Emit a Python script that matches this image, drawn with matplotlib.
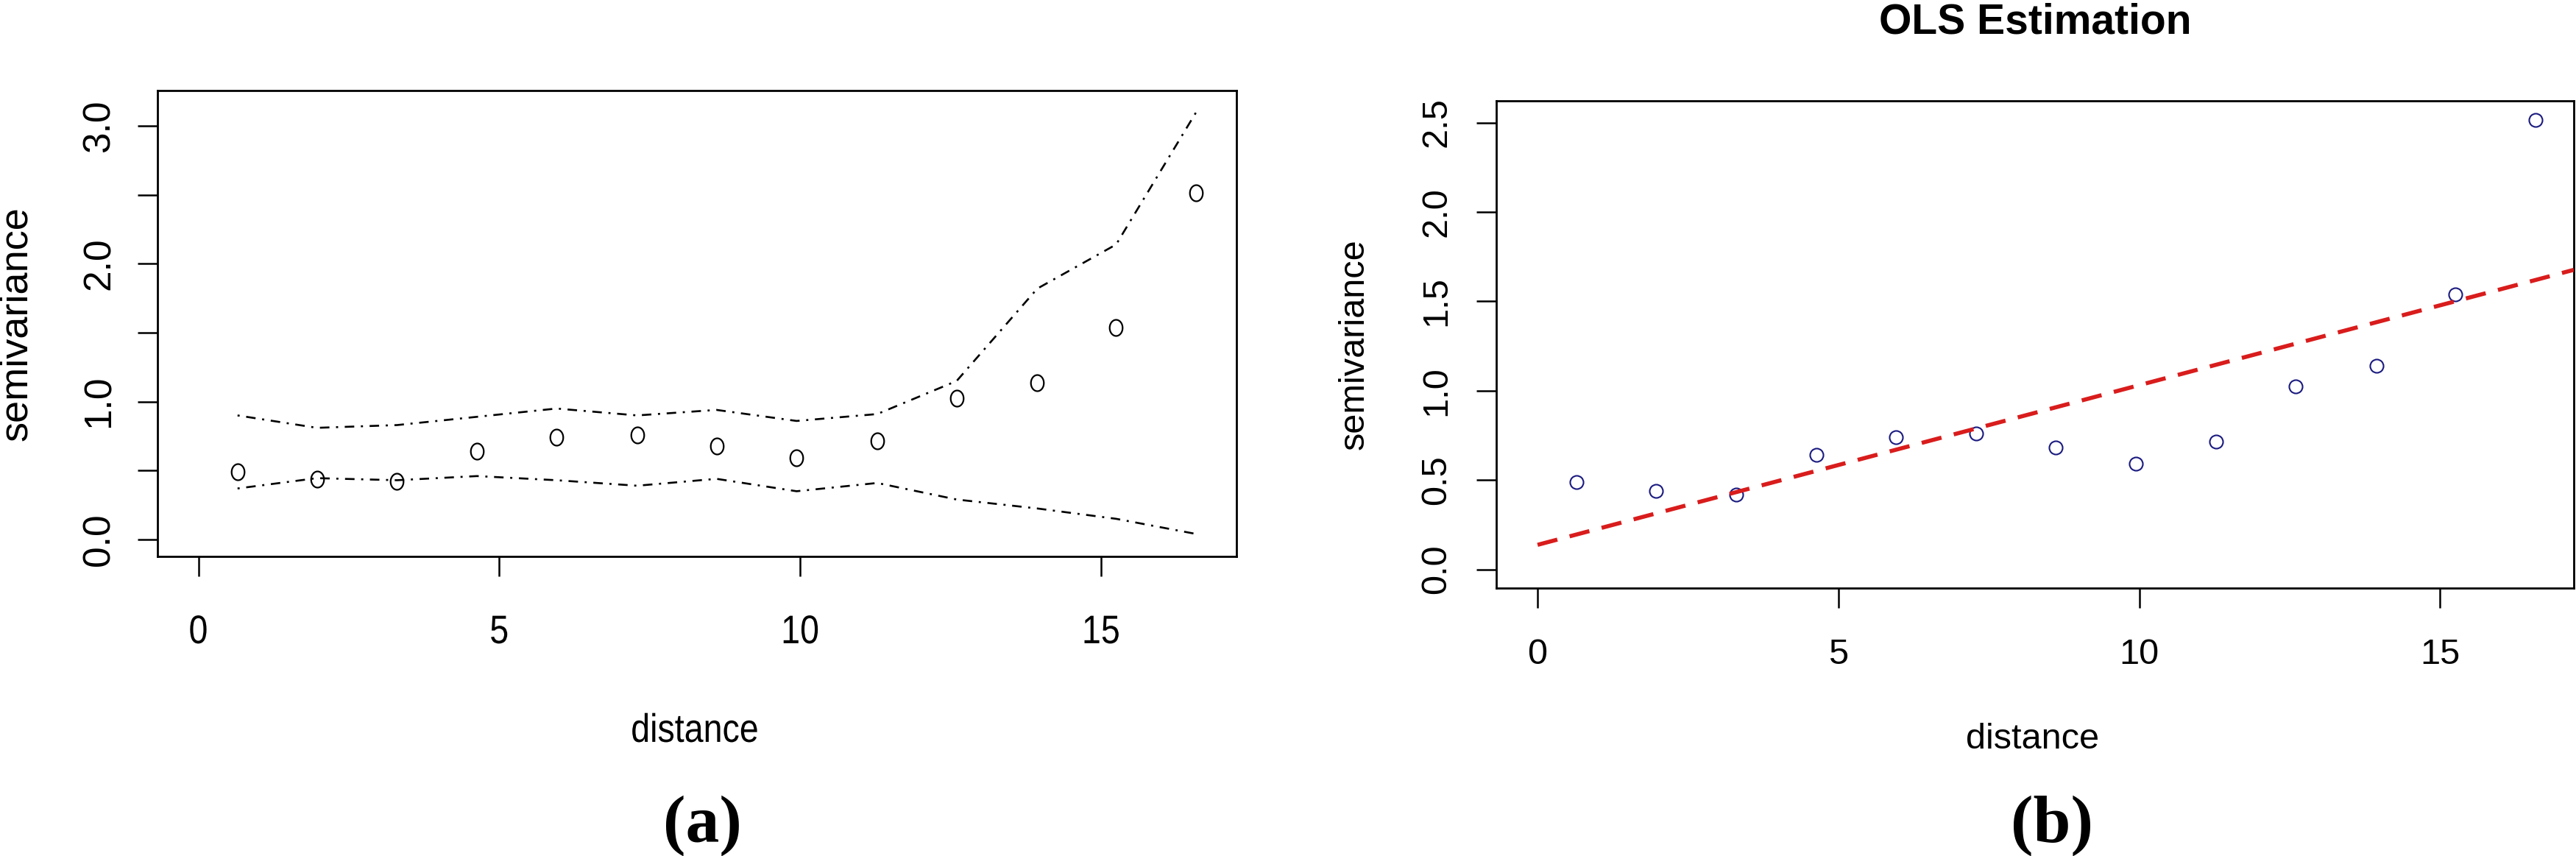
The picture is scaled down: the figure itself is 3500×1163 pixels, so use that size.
import numpy as np
import matplotlib
matplotlib.use("Agg")
import matplotlib.pyplot as plt
from matplotlib.path import Path
from matplotlib.transforms import Affine2D
from matplotlib.patheffects import AbstractPathEffect

# ---------------- data ----------------
lag_distance = [0.65, 1.97, 3.30, 4.63, 5.95, 7.29, 8.61, 9.94, 11.28, 12.60, 13.94, 15.25, 16.58]
semivariance = [0.49, 0.44, 0.42, 0.64, 0.74, 0.76, 0.68, 0.59, 0.715, 1.025, 1.137, 1.537, 2.515]
envelope_upper = [0.90, 0.81, 0.83, 0.89, 0.95, 0.90, 0.94, 0.86, 0.91, 1.15, 1.82, 2.14, 3.10]
envelope_lower = [0.37, 0.445, 0.43, 0.46, 0.43, 0.39, 0.44, 0.35, 0.41, 0.29, 0.225, 0.15, 0.04]
ols_distance = [0.0, 17.22]
ols_fit = [0.137, 1.676]

x_ticks = [0, 5, 10, 15]
x_ticklabels = ["0", "5", "10", "15"]
y_ticks_a = [0.0, 0.5, 1.0, 1.5, 2.0, 2.5, 3.0]
y_ticklabels_a = ["0.0", "", "1.0", "", "2.0", "", "3.0"]
y_ticks_b = [0.0, 0.5, 1.0, 1.5, 2.0, 2.5]
y_ticklabels_b = ["0.0", "0.5", "1.0", "1.5", "2.0", "2.5"]

plt.rcParams["font.family"] = ["Liberation Sans", "DejaVu Sans"]


class HStretch(AbstractPathEffect):
    """Condense glyphs along the baseline about the text centre."""
    def __init__(self, sx=1.0):
        super().__init__()
        self.sx = sx

    def draw_path(self, renderer, gc, tpath, affine, rgbFace=None):
        v = tpath.vertices
        c = (v[:, 0].min() + v[:, 0].max()) / 2.0 if len(v) else 0.0
        t = Affine2D().translate(-c, 0).scale(self.sx, 1.0).translate(c, 0) + affine
        renderer.draw_path(gc, tpath, t, rgbFace)


W, H = 3500, 1163
fig = plt.figure(figsize=(W / 100, H / 100), dpi=100)


def px_axes(l, r, t, b):
    return fig.add_axes([l / W, 1 - b / H, (r - l) / W, (b - t) / H])


axA = px_axes(214, 1680, 123, 756)
axB = px_axes(2033.5, 3497, 136.7, 799)

# elliptical open-circle marker (left panel)
th = np.linspace(0, 2 * np.pi, 73)
ell = Path(np.column_stack([0.8 * np.cos(th), np.sin(th)]), closed=True)

# ---------------- panel (a) ----------------
dd = (1.1, 3.4, 4.9, 3.4)
axA.plot(lag_distance, envelope_upper, color="black", lw=1.9, dashes=dd)
axA.plot(lag_distance, envelope_lower, color="black", lw=1.9, dashes=dd)
axA.plot(lag_distance, semivariance, ls="none", marker=ell, ms=15.8,
         mfc="none", mec="black", mew=1.6, zorder=3)
axA.set_xlim(-0.68, 17.25)
axA.set_ylim(-0.123, 3.257)

# ---------------- panel (b) ----------------
axB.plot(lag_distance, semivariance, ls="none", marker="o", ms=13,
         mfc="none", mec="#1a1a80", mew=1.5, zorder=2)
axB.plot(ols_distance, ols_fit, color="#d91c1c", lw=4.0, dashes=(5.0, 3.1),
         dash_capstyle="butt", zorder=3)
axB.set_xlim(-0.68, 17.22)
axB.set_ylim(-0.105, 2.623)

for ax in (axA, axB):
    for s in ax.spines.values():
        s.set_linewidth(2.0)
        s.set_color("black")
    ax.set_xticks(x_ticks)
    ax.tick_params(direction="out", length=19.4, width=1.8, colors="black",
                   top=False, right=False)

# ticks & labels (a)
axA.set_xticklabels(x_ticklabels, fontsize=39)
axA.tick_params(axis="x", pad=37.4)
axA.set_yticks(y_ticks_a)
axA.set_yticklabels(y_ticklabels_a, fontsize=37, rotation=90, va="center")
axA.tick_params(axis="y", pad=19.9)
axA.set_xlabel("distance", fontsize=39, va="baseline")
axA.xaxis.set_label_coords(0.498, -0.398)
axA.set_ylabel("semivariance", fontsize=39, va="baseline")
axA.yaxis.set_label_coords(-0.1214, 0.5)
for t in axA.get_xticklabels() + [axA.xaxis.label]:
    t.set_path_effects([HStretch(0.86)])

# ticks & labels (b)
axB.set_xticklabels(x_ticklabels, fontsize=35)
axB.tick_params(axis="x", pad=29.5)
axB.set_yticks(y_ticks_b)
axB.set_yticklabels(y_ticklabels_b, fontsize=35, rotation=90, va="center")
axB.tick_params(axis="y", pad=23.3)
axB.set_xlabel("distance", fontsize=35, va="baseline")
axB.xaxis.set_label_coords(0.4978, -0.329)
axB.set_ylabel("semivariance", fontsize=35, va="baseline")
axB.yaxis.set_label_coords(-0.1233, 0.5)
axB.set_title("OLS Estimation", fontsize=41, fontweight="bold",
              y=1 + (136.7 - 45) / 662.3, pad=0)

# panel letters
fig.text(954 / W, 1 - 1144 / H, "(a)", ha="center", va="baseline", fontsize=66,
         family=["Liberation Serif", "DejaVu Serif"], weight="bold")
fig.text(2788 / W, 1 - 1144 / H, "(b)", ha="center", va="baseline", fontsize=66,
         family=["Liberation Serif", "DejaVu Serif"], weight="bold")

fig.savefig("out.png", dpi=100, facecolor="white")
